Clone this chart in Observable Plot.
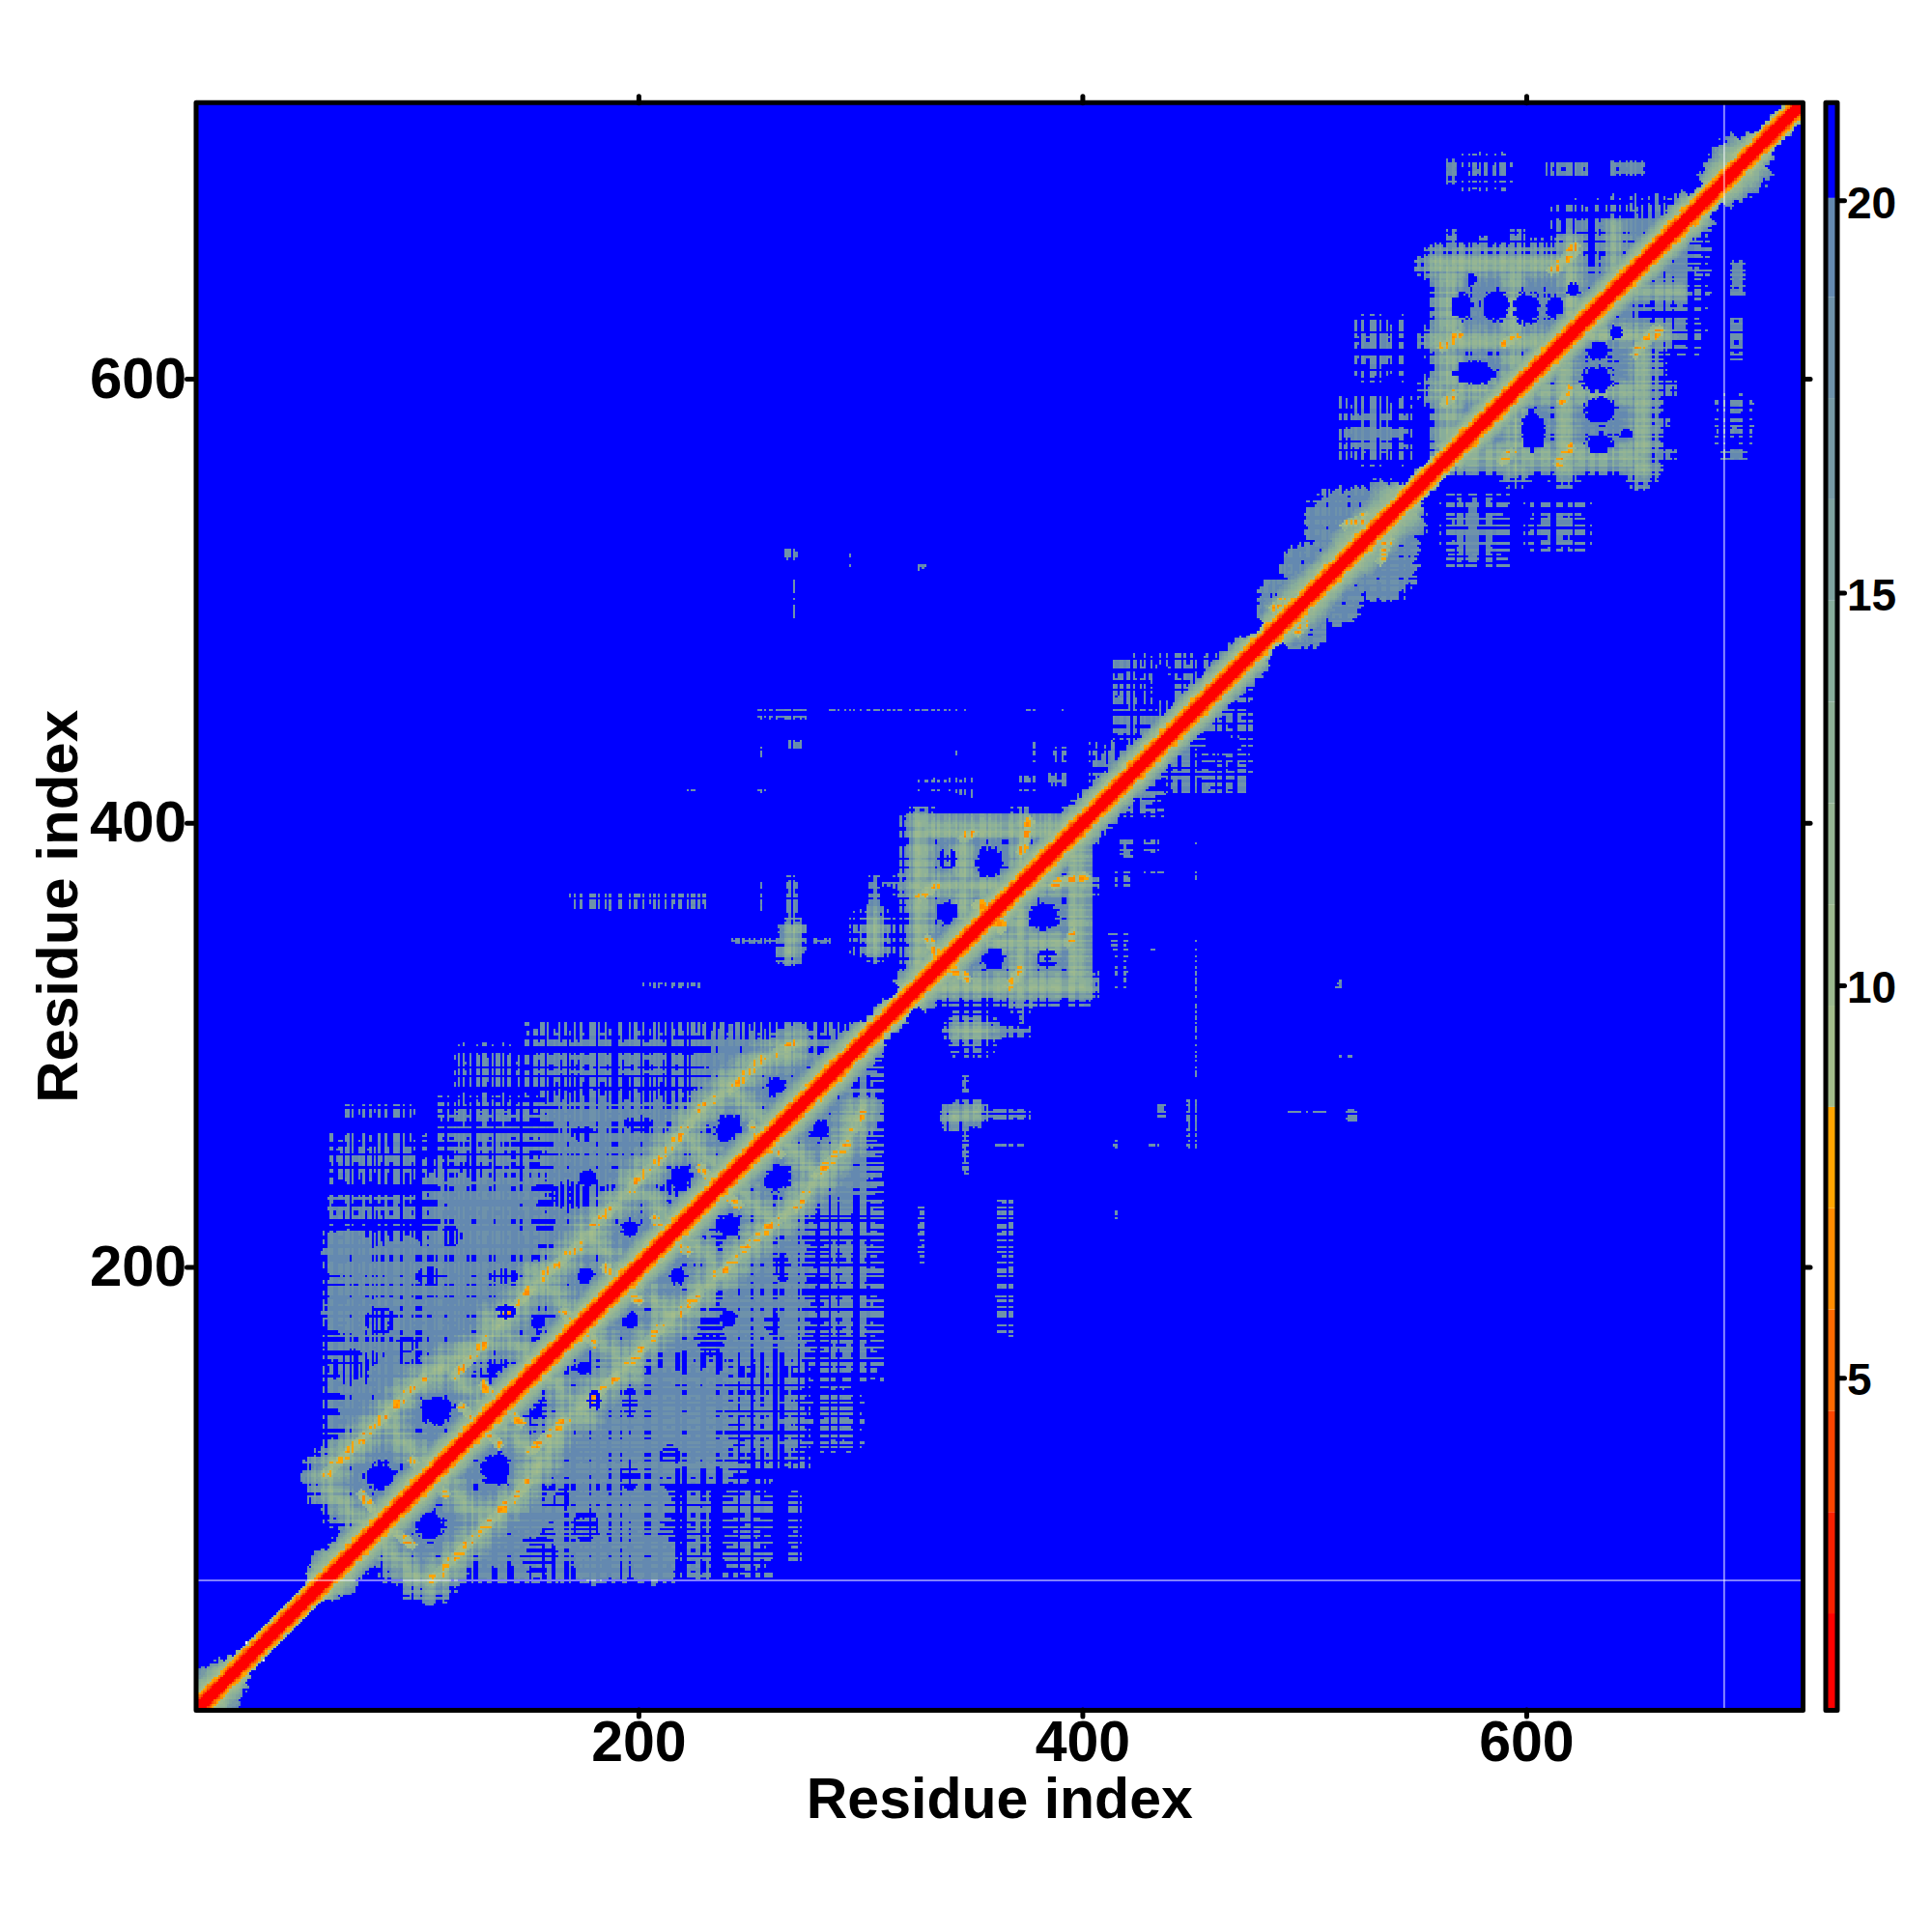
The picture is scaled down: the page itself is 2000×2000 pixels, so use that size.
<!DOCTYPE html>
<html><head><meta charset="utf-8">
<script src="https://cdn.jsdelivr.net/npm/d3@7"></script>
<script src="https://cdn.jsdelivr.net/npm/@observablehq/plot@0.6"></script>
<style>html,body{margin:0;padding:0;background:#fff}#c{position:relative;width:2000px;height:2000px}#c svg{position:absolute;top:0}</style>
</head><body><div id="c"></div>
<script>
const residues = 724;
const xyTicks = [200,400,600];
const barTicks = [5,10,15,20];
const axisTitle = "Residue index";
const levels = [2,3.29,4.58,5.87,7.16,8.45,9.74,11.03,12.32,13.61,14.9,16.19,17.48,18.77,20.03];
const levelColors = ["#ff0000","#f92000","#fb4500","#fd6a00","#ff8c00","#ffa500","#a3bd8b","#9cb98f","#95b593","#8eb197","#87ad9b","#7fa39f","#779aa5","#6e92aa","#6489b0","#0000ff"];
const barLimits = [0.77,21.25];
const blankLines = {row:59, column:689};

// distance read at each sequence separation next to the diagonal
const diagonalProfile = [1,1,1,1.5,3.4,5.4,7,9];
// residue where a stretch of the diagonal starts, and how far its halo reaches from there on
const diagonalHalo = [[1,13],[4,15],[8,16],[12,15],[15,13],[18,10],[21,8],[24,7],[54,9],[56,13],[59,16],[63,18],[66,15],[300,13],[306,10],[316,8],[322,15],[402,14],[478,10],[482,7],[486,14],[490,18],[505,16],[512,16],[520,20],[540,22],[545,15],[548,8],[565,14],[678,9],[684,14],[688,18],[694,20],[698,18],[702,12],[706,8]];
// residues where orange contacts bulge out of the diagonal
const diagonalBursts = [73,84,100,110,124,133,153.5,171,178.5,195,207,219.5,238,260,278,288,306,324,337,358,367,383,396,414,423,432,440,453,479,485,496,511.5,525,575,586,609,629,646,666,674,698];

// contact areas: lower residue range, upper residue range, how filled they are
const areaRanges = [
 [59,135,86,154,.97],[68,135,68,90,.97],[60,124,154,217,.86],[104,160,154,246,.95],[60,103,221,232,.6],[62,101,239,259,.55],[66,100,268,273,.4],
 [112,153,232,277,.6],[117,148,280,298,.42],[155,224,232,280,.92],[152,222,280,309,.58],[224,282,224,309,.97],[155,232,155,232,.98],[135,160,135,160,.98],[282,310,282,309,.9],
 [298,313,343,358,.86],[304,308,360,376,.72],[309,320,372,374,.85],[324,404,324,401,.98],
 [263,274,337,355,.78],[267,272,357,376,.62],[242,286,345,348,.6],[254,256,361,374,.5],
 [406,430,409,434,.93],[427,455,436,455,.92],[445,458,462,474,.85],[414,425,438,474,.62],[425,443,459,474,.62],
 [562,618,562,653,.94],[602,663,602,658,.94],[622,678,642,678,.65],[640,680,640,680,.95],[612,664,657,675,.52],[564,568,653,667,.7],[578,583,653,664,.6],[593,599,653,667,.6],[601,611,653,663,.55],
 [563,568,687,700,.78],[574,592,687,700,.62],[608,628,690,699,.55],[637,654,692,699,.72],
 [517,546,563,590,.72],[522,544,602,626,.55],
 [266,272,517,523,.6],[294,296,515,521,.35],[326,329,514,518,.55],[269,271,491,510,.25],
 [253,277,447,452,.55],[286,312,449,452,.3],[325,334,450,452,.45],[375,378,450,452,.5],[389,391,450,452,.4],
 [268,274,433,437,.5],[253,257,429,435,.4],[343,345,429,433,.35],[377,378,428,436,.55],[386,392,428,434,.6],[371,378,415,421,.5],[385,393,416,422,.72],[327,335,416,418,.5],[343,350,412,420,.45],[222,226,415,416,.6],[253,258,414,416,.5],
 [326,353,415,420,.32],[168,232,362,370,.32],[201,229,326,330,.42],[186,189,360,364,.4],[287,348,449,452,.22]
];
// round contact patches: two residues, radius, how filled
const roundPatches = [[69,206,11,1],[97,205,8,1],[131,223,12,1],[69,180,11,.97],[88,150,10,1],[112,172,9,1],[489,500,10,.96],[500,515,10,.97],[515,535,14,.98],[524,542,9,.95]];
// lattice ridges: two residue pairs, distance on the ridge, halo reach
const ridges = [
 [59,107,103,150,11,10],[103,150,131,167,11,10],[131,167,151,190,11,10],[151,190,173,210,11,10],[173,210,189,228,11,10],[189,228,204,244,11,10],[204,244,223,265,11,10],[223,265,234,276,11,10],[234,276,256,294,11,10],[256,294,272,300,11,10],
 [261,261,239,283,12.5,9],[240,240,218,262,12.5,9],[218,218,196,240,12.5,9],[196,196,174,218,12.5,9],[175,175,153,197,12.5,9],[155,155,133,177,12.5,9],[134,134,112,156,12.5,9],[108,108,86,130,12.5,9],[80,80,60,100,12.5,9],
 [346,346,346,397,11.5,8],[330,397,395,397,11.5,8],[324,372,372,372,11.5,8],[327,330,327,400,11.5,8],[372,372,372,400,12,7],
 [565,560,565,652,11.5,8],[559,652,616,652,11.5,8],[594,594,594,652,12.5,8],[560,617,620,617,12,8],[560,595,595,595,12,8],[620,620,620,660,12.5,8],[640,640,640,668,13,7],
 [306,345,306,356,12.5,7],[268,342,270,352,13,6],[430,425,445,445,13,7]
];
// orange contact runs read along the ridges
const closeRuns = [
 [59,107,103,150],[117,151,131,167],[141,179,151,190],[157,196,173,210],[180,219,189,228],[196,235,204,244],[208,247,223,265],[227,271,234,276],[241,280,256,294],[262,297,270,300],
 [130,147,137,138],[120,137,128,130],[98,113,104,106],[75,98,80,91],[166,180,171,175],[185,200,190,194],[207,222,212,216],[228,245,233,239],[251,264,255,258],
 [327,367,334,372],[346,393,351,396],[374,392,376,401],[330,348,335,340],[352,363,356,363],[372,387,376,398],
 [518,534,528,538],[486,497,490,500],[427,434,432,430],[419,419,424,424],
 [562,614,569,620],[563,589,567,593],[590,616,595,619],[611,649,622,657],[614,650,622,660]
];
// blue gaps: two residues and two radii
const gaps = [
 [241,262,6.5,6],[262,281,4.5,4.5],[177,240,3.5,3.5],[219,240,5,5],[196,218,3.8,3.8],[176,196,3.8,3.4],[155,175,3.2,3.2],[109,136,8,6.5],[84,106,7,6.5],[137,154,3.6,3.2],
 [358,382,6.5,6.5],[339,359,5,5.5],[435.5,463,4,7],
 [571,633,4.5,6],[586,633,6,7],[600,632,6,7],[613,632,4,5],[577,603,9,5],[621,640,3,3],[575,645,2,3]
];
// thinned spots: two residues and two radii, only scattered cells stay
const thinSpots = [[139,196,6,3],[106,196,6,4],[84,176,7,5],[115,214,5,4],[339,384,4,5],[420,460,4,6],[95,165,5,3],[70,160,5,3],[125,245,6,3],[175,260,5,3],[200,265,6,3],[140,180,4,3]];
// on/off rhythm of rows and columns, read from the dotted areas
const rowRhythm = "0011900282110039990007711220088099113300877022099811033008220119400770100990882203119006613379";
const colRhythm = "7700190551739992086617004928837160582991370048192260731885294017633820917735086294817805";

const idx = (x,y) => (y-1)*residues + (x-1);
const matrix = new Float32Array(residues*residues).fill(21);
const segDist = (px,py,[a,b,c,d]) => {
  const dx=c-a, dy=d-b, u=Math.max(0,Math.min(1,((px-a)*dx+(py-b)*dy)/(dx*dx+dy*dy||1)));
  return Math.hypot(px-a-u*dx, py-b-u*dy);
};
const haloAt = m => { let h = 7; for (const [s,w] of diagonalHalo) if (m>=s) h = w; return h; };
for (let y=2;y<=residues;y++) for (let x=1;x<y;x++) {
  const rd = +rowRhythm[y % rowRhythm.length], cd = +colRhythm[x % colRhythm.length];
  const t = (Math.max(rd,cd)*0.65 + Math.min(rd,cd)*0.35)/9;   // decides which cells stay in dotted areas
  const g = (rd+cd)/18;                                       // checker of lighter rows and columns
  let v = 21;
  for (const [x1,x2,y1,y2,f] of areaRanges) {
    const big = x2-x1>=12 && y2-y1>=12;
    const jr = big ? 3-0.75*rd : 0, jc = big ? 3-0.75*cd : 0;
    const edge = Math.min(x-x1+jr, x2-x+jr, y-y1+jc, y2-y+jc);
    if (edge<0) continue;
    if (t < f*Math.min(1,(edge+1)/(big?6:2))) v = Math.min(v, g<0.25 ? 18 : 19.4);
  }
  for (const [cx,cy,r,f] of roundPatches) {
    const d = Math.hypot(x-cx,y-cy);
    if (d < r*(0.85+0.4*(1-t)) && t<f) v = Math.min(v, g<0.25 ? 18 : 19.4);
  }
  for (const [a,b,c,e,base,halo] of ridges) {
    const d = segDist(x,y,[a,b,c,e]);
    if (d < halo*(0.75+0.5*(1-t))) v = Math.min(v, base + d*(19.4-base)/halo + 7*(g-0.35));
  }
  for (const [a,b,c,e] of closeRuns) {
    const d = segDist(x,y,[a,b,c,e]);
    if (d<2.2) v = Math.min(v, 6 + d + 6.5*g);
  }
  for (const [cx,cy,rx,ry] of gaps) {
    const q = ((x-cx)/rx)**2 + ((y-cy)/ry)**2;
    if (q < 0.55 + 0.9*(1-t)) v = 21;
  }
  for (const [cx,cy,rx,ry] of thinSpots) {
    const q = ((x-cx)/rx)**2 + ((y-cy)/ry)**2;
    if (q < 1.2 && t > 0.42) v = 21;
  }
  const d = y-x, m = (x+y)/2, reach = haloAt(m), n = diagonalProfile.length;
  if (d < n) v = Math.min(v, diagonalProfile[d] + (d>3 ? 2.2*g : 0));
  else if (d <= reach*(0.85+0.3*(1-t))) v = Math.min(v, 10 + (d-n)*(9.4/(reach-n+1)) + 2*g);
  if (d<=8 && diagonalBursts.some(b => Math.abs(b-m)<=1.5)) v = Math.min(v, 4.6 + 0.5*d + 2*g);
  matrix[idx(x,y)] = v;
  matrix[idx(y,x)] = v;
}
for (let i=1;i<=residues;i++) matrix[idx(i,i)] = 1;

const colorScale = {type:"threshold", domain:levels, range:levelColors};
const font = "'Liberation Sans', Arial, Helvetica, sans-serif";
const common = {strokeWidth:5, strokeLinecap:"round"};

const map = Plot.plot({
  width:2000, height:2000, marginLeft:202.5, marginRight:134, marginTop:105.7, marginBottom:230,
  style:{fontFamily:font, fontWeight:"bold", background:"transparent", color:"#000"},
  x:{domain:[0.5,724.5]}, y:{domain:[0.5,724.5]}, color:colorScale,
  marks:[
    Plot.raster(matrix,{width:residues,height:residues,x1:0.5,x2:724.5,y1:0.5,y2:724.5,imageRendering:"pixelated"}),
    Plot.ruleY([blankLines.row],{stroke:"#fff",strokeWidth:1}),
    Plot.ruleX([blankLines.column],{stroke:"#fff",strokeWidth:1}),
    Plot.axisX({anchor:"bottom",ticks:xyTicks,tickSize:7,tickPadding:3.5,fontSize:59,...common,label:axisTitle,labelAnchor:"center",labelArrow:"none",labelOffset:111}),
    Plot.axisY({anchor:"left",ticks:xyTicks,tickSize:9,tickPadding:1,fontSize:60,...common,label:axisTitle,labelAnchor:"center",labelArrow:"none",labelOffset:166}),
    Plot.axisX({anchor:"top",ticks:xyTicks,tickSize:7,text:null,label:null,...common}),
    Plot.axisY({anchor:"right",ticks:xyTicks,tickSize:7,text:null,label:null,...common}),
    Plot.frame({stroke:"#000",strokeWidth:5,strokeLinejoin:"round"})
  ]
});
document.getElementById("c").appendChild(map);

const bands = levelColors.map((c,i)=>({lo:i?levels[i-1]:barLimits[0],hi:i<levels.length?levels[i]:barLimits[1]}));
const bar = Plot.plot({
  width:150, height:2000, marginLeft:39.5, marginRight:98.5, marginTop:105.7, marginBottom:230,
  style:{fontFamily:font, fontWeight:"bold", background:"transparent", color:"#000"},
  x:{axis:null,domain:[0,1]}, y:{domain:barLimits}, color:colorScale,
  marks:[
    Plot.rect(bands,{x1:0,x2:1,y1:"lo",y2:"hi",fill:d=>(d.lo+d.hi)/2}),
    Plot.axisY({anchor:"right",ticks:barTicks,tickSize:7,text:null,label:null,...common}),
    Plot.axisY({anchor:"right",ticks:barTicks,tickSize:0,tickPadding:10,fontSize:46,dy:3,label:null}),
    Plot.frame({stroke:"#000",strokeWidth:5,strokeLinejoin:"round"})
  ]
});
bar.style.left="1850px";
document.getElementById("c").appendChild(bar);
</script></body></html>
